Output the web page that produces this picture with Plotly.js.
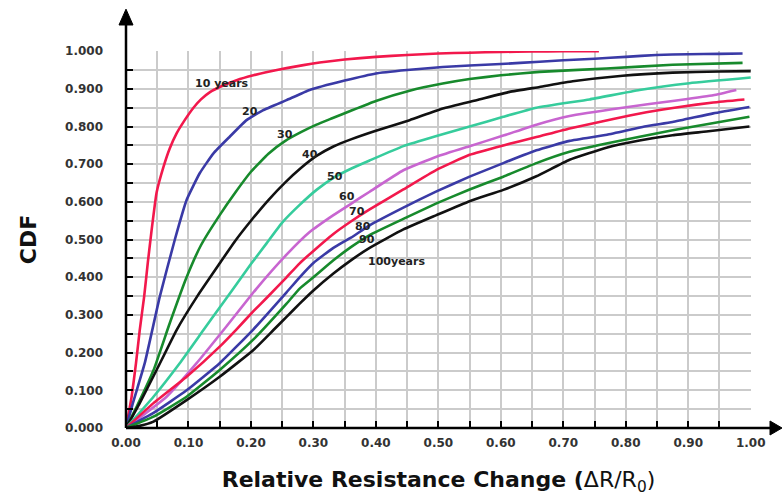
<!DOCTYPE html>
<html>
<head>
<meta charset="utf-8">
<script src="https://cdn.plot.ly/plotly-3.0.1.min.js"></script>
<style>html,body{margin:0;padding:0;background:#fff;}#chart{width:783px;height:501px;}</style>
</head>
<body>
<div id="chart"></div>
<script>
// ---- data (x = ΔR/R0, y = CDF) ----
const seriesNames = ["10 years", "20", "30", "40", "50", "60", "70", "80", "90", "100years"];

const x10 = [0, 0.009, 0.016, 0.022, 0.029, 0.035, 0.041, 0.049, 0.06, 0.07, 0.081, 0.094, 0.108, 0.12, 0.135, 0.15, 0.177, 0.204, 0.23, 0.257, 0.284, 0.31, 0.35, 0.4, 0.45, 0.5, 0.55, 0.6, 0.65, 0.7, 0.757];
const y10 = [0, 0.083, 0.172, 0.26, 0.348, 0.44, 0.525, 0.625, 0.693, 0.742, 0.782, 0.817, 0.85, 0.872, 0.892, 0.905, 0.923, 0.936, 0.946, 0.955, 0.963, 0.97, 0.978, 0.985, 0.99, 0.994, 0.996, 0.998, 0.999, 1.0, 1.0];

const x20 = [0, 0.011, 0.03, 0.054, 0.078, 0.097, 0.118, 0.14, 0.166, 0.193, 0.219, 0.257, 0.294, 0.35, 0.4, 0.45, 0.507, 0.55, 0.6, 0.662, 0.7, 0.75, 0.8, 0.849, 0.9, 0.95, 0.987];
const y20 = [0, 0.066, 0.172, 0.348, 0.499, 0.605, 0.676, 0.729, 0.773, 0.817, 0.843, 0.87, 0.897, 0.922, 0.941, 0.95, 0.958, 0.962, 0.966, 0.972, 0.976, 0.98, 0.985, 0.99, 0.992, 0.993, 0.994];

const x30 = [0, 0.017, 0.044, 0.07, 0.097, 0.12, 0.15, 0.175, 0.2, 0.228, 0.255, 0.28, 0.305, 0.33, 0.36, 0.4, 0.454, 0.507, 0.55, 0.6, 0.662, 0.769, 0.875, 0.987];
const y30 = [0, 0.056, 0.153, 0.278, 0.40, 0.485, 0.565, 0.625, 0.68, 0.728, 0.762, 0.785, 0.805, 0.822, 0.842, 0.868, 0.895, 0.914, 0.926, 0.936, 0.945, 0.954, 0.964, 0.969];

const x40 = [0, 0.022, 0.049, 0.081, 0.115, 0.15, 0.175, 0.2, 0.228, 0.255, 0.28, 0.305, 0.332, 0.36, 0.4, 0.454, 0.507, 0.561, 0.614, 0.662, 0.715, 0.795, 0.875, 0.95, 1.0];
const y40 = [0, 0.066, 0.154, 0.26, 0.352, 0.437, 0.497, 0.55, 0.605, 0.652, 0.69, 0.722, 0.747, 0.766, 0.789, 0.817, 0.848, 0.87, 0.892, 0.905, 0.92, 0.935, 0.943, 0.946, 0.947];

const x50 = [0, 0.044, 0.086, 0.124, 0.15, 0.172, 0.2, 0.225, 0.25, 0.278, 0.305, 0.332, 0.36, 0.39, 0.444, 0.497, 0.55, 0.604, 0.657, 0.742, 0.822, 0.902, 1.0];
const y50 = [0, 0.083, 0.172, 0.26, 0.32, 0.37, 0.435, 0.49, 0.545, 0.592, 0.632, 0.664, 0.688, 0.71, 0.748, 0.775, 0.8, 0.826, 0.85, 0.872, 0.897, 0.915, 0.93];

const x60 = [0, 0.065, 0.113, 0.161, 0.209, 0.257, 0.294, 0.332, 0.36, 0.39, 0.444, 0.497, 0.55, 0.604, 0.657, 0.71, 0.795, 0.875, 0.94, 0.977];
const y60 = [0, 0.083, 0.172, 0.27, 0.37, 0.46, 0.52, 0.565, 0.595, 0.627, 0.684, 0.72, 0.748, 0.776, 0.805, 0.828, 0.85, 0.868, 0.883, 0.897];

const x70 = [0, 0.044, 0.097, 0.15, 0.177, 0.204, 0.225, 0.257, 0.278, 0.3, 0.332, 0.36, 0.39, 0.444, 0.497, 0.55, 0.604, 0.657, 0.71, 0.78, 0.833, 0.886, 0.94, 0.99];
const y70 = [0, 0.066, 0.136, 0.216, 0.262, 0.31, 0.345, 0.40, 0.437, 0.47, 0.515, 0.548, 0.58, 0.633, 0.685, 0.725, 0.75, 0.772, 0.795, 0.82, 0.838, 0.852, 0.864, 0.872];

const x80 = [0, 0.044, 0.097, 0.15, 0.204, 0.257, 0.278, 0.3, 0.332, 0.36, 0.39, 0.444, 0.497, 0.55, 0.604, 0.657, 0.71, 0.77, 0.83, 0.875, 0.94, 0.998];
const y80 = [0, 0.04, 0.10, 0.172, 0.262, 0.36, 0.4, 0.438, 0.478, 0.505, 0.538, 0.585, 0.628, 0.667, 0.703, 0.737, 0.762, 0.778, 0.80, 0.812, 0.835, 0.852];

const x90 = [0, 0.044, 0.097, 0.15, 0.204, 0.257, 0.278, 0.3, 0.332, 0.36, 0.39, 0.444, 0.497, 0.55, 0.604, 0.657, 0.71, 0.769, 0.875, 0.998];
const y90 = [0, 0.03, 0.083, 0.154, 0.235, 0.33, 0.37, 0.40, 0.445, 0.48, 0.512, 0.555, 0.596, 0.633, 0.667, 0.703, 0.733, 0.755, 0.79, 0.826];

const x100 = [0, 0.02, 0.044, 0.097, 0.15, 0.204, 0.236, 0.257, 0.278, 0.3, 0.332, 0.36, 0.39, 0.444, 0.497, 0.55, 0.604, 0.657, 0.71, 0.769, 0.822, 0.875, 0.929, 0.998];
const y100 = [0, 0.005, 0.017, 0.074, 0.136, 0.207, 0.26, 0.295, 0.33, 0.365, 0.41, 0.445, 0.478, 0.527, 0.565, 0.602, 0.632, 0.668, 0.712, 0.744, 0.763, 0.777, 0.787, 0.80];

const seriesX = [x10, x20, x30, x40, x50, x60, x70, x80, x90, x100];
const seriesY = [y10, y20, y30, y40, y50, y60, y70, y80, y90, y100];

// curve label anchor positions (data coordinates)
const labelX = [0.153, 0.198, 0.254, 0.295, 0.334, 0.353, 0.369, 0.379, 0.385, 0.433];
const labelY = [0.914, 0.839, 0.779, 0.727, 0.668, 0.614, 0.574, 0.534, 0.499, 0.441];

const yTickVals = [0, 0.1, 0.2, 0.3, 0.4, 0.5, 0.6, 0.7, 0.8, 0.9, 1.0];
const xTickVals = [0, 0.1, 0.2, 0.3, 0.4, 0.5, 0.6, 0.7, 0.8, 0.9, 1.0];

// ---- styles ----
const colors = ["#f2184c", "#3a3aa6", "#178a2c", "#111111", "#36cc9c", "#c865d0", "#f2184c", "#3a3aa6", "#178a2c", "#111111"];

const traces = seriesNames.map((n, i) => ({
  type: "scatter",
  mode: "lines",
  name: n,
  x: seriesX[i],
  y: seriesY[i],
  line: { color: colors[i], width: 2.6, shape: "spline", smoothing: 0.4 },
  hoverinfo: "skip",
  showlegend: false
}));

const FONT = "DejaVu Sans, Verdana, sans-serif";
const gridC = "#cbcbcb";

const annotations = seriesNames.map((n, i) => ({
  x: labelX[i], y: labelY[i], xref: "x", yref: "y",
  text: n, showarrow: false, xanchor: "center", yanchor: "middle",
  font: { family: FONT, size: 11, color: "#222", weight: "bold" }
}));

const shapes = [
  // y axis line with arrow
  { type: "line", xref: "paper", yref: "paper", x0: 0, y0: 0, x1: 0, y1: 1.075, line: { color: "#000", width: 2.5 }, layer: "above" },
  { type: "path", xref: "paper", yref: "paper", path: "M -0.0112,1.069 L 0,1.111 L 0.0112,1.069 Z", fillcolor: "#000", line: { color: "#000", width: 1 }, layer: "above" },
  // x axis line with arrow
  { type: "line", xref: "paper", yref: "paper", x0: 0, y0: 0, x1: 1.035, y1: 0, line: { color: "#000", width: 2.5 }, layer: "above" },
  { type: "path", xref: "paper", yref: "paper", path: "M 1.0304,0.0186 L 1.0496,0 L 1.0304,-0.0186 Z", fillcolor: "#000", line: { color: "#000", width: 1 }, layer: "above" }
];

const layout = {
  width: 783, height: 501,
  margin: { l: 126, r: 32, t: 51, b: 73 },
  paper_bgcolor: "#fff", plot_bgcolor: "#fff",
  showlegend: false,
  xaxis: {
    range: [0, 1.0005],
    tickvals: xTickVals, tickformat: ".2f",
    ticks: "inside", ticklen: 7, tickwidth: 2, tickcolor: "#000",
    showgrid: true, gridcolor: gridC, gridwidth: 2,
    zeroline: false, showline: false,
    minor: { dtick: 0.05, tick0: 0, ticks: "inside", ticklen: 7, tickwidth: 2, tickcolor: "#000", showgrid: true, gridcolor: gridC, gridwidth: 2 },
    tickfont: { family: FONT, size: 12, color: "#333", weight: "bold" },
    ticklabelstandoff: 6,
    title: { text: "<b>Relative Resistance Change (</b>ΔR/R<sub>0</sub>)", font: { family: FONT, size: 22, color: "#111" }, standoff: 22 },
    fixedrange: true
  },
  yaxis: {
    range: [0, 1.0005],
    tickvals: yTickVals, tickformat: ".3f",
    ticks: "inside", ticklen: 7, tickwidth: 2, tickcolor: "#000",
    showgrid: true, gridcolor: gridC, gridwidth: 2,
    zeroline: false, showline: false,
    minor: { dtick: 0.05, tick0: 0, ticks: "inside", ticklen: 7, tickwidth: 2, tickcolor: "#000", showgrid: true, gridcolor: gridC, gridwidth: 2 },
    tickfont: { family: FONT, size: 12, color: "#333", weight: "bold" },
    ticklabelstandoff: 22,
    title: { text: "<b>CDF</b>", font: { family: FONT, size: 22, color: "#111" }, standoff: 22 },
    fixedrange: true
  },
  annotations: annotations,
  shapes: shapes
};

Plotly.newPlot("chart", traces, layout, { staticPlot: true, displayModeBar: false });
</script>
</body>
</html>
